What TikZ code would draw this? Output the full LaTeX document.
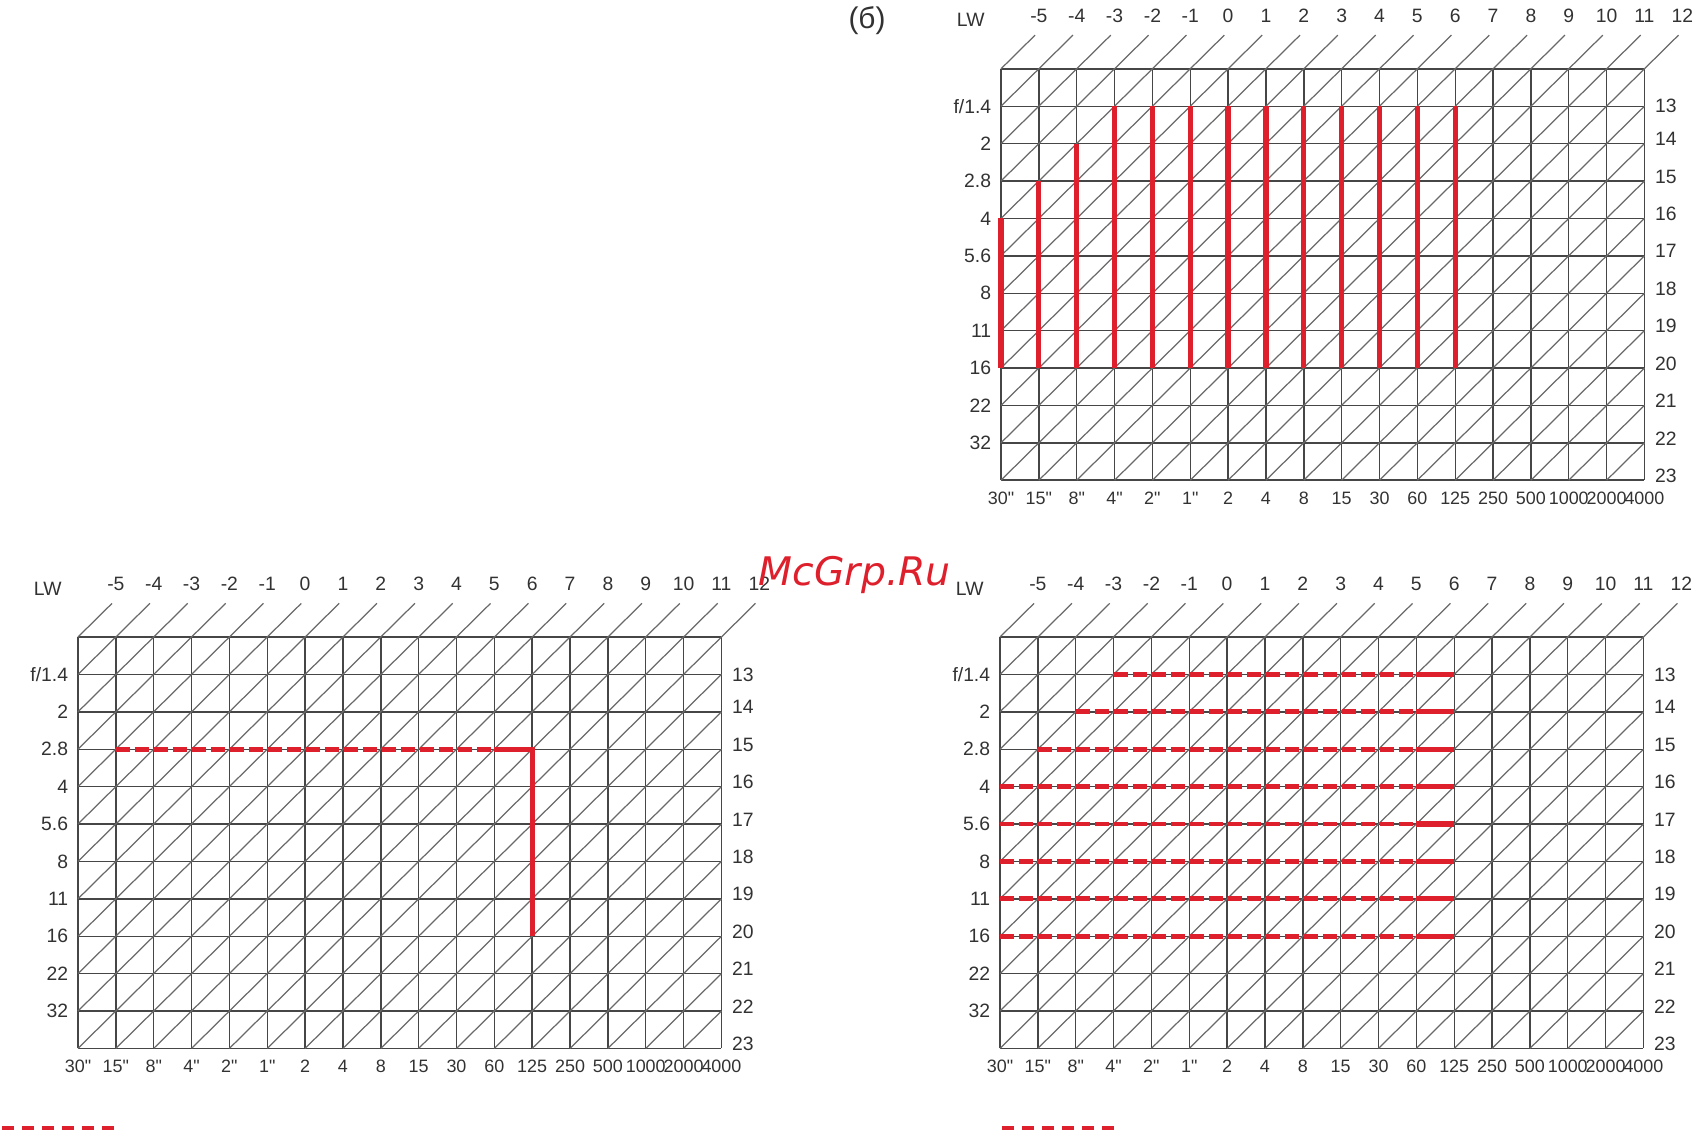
\documentclass[tikz,border=0pt]{standalone}
\usepackage{fontspec}
\setmainfont{Liberation Sans}
\newfontfamily\wmfont{DejaVu Sans}
\definecolor{evgrid}{RGB}{70,70,70}
\definecolor{evdiag}{RGB}{105,105,105}
\definecolor{evred}{RGB}{222,32,44}
\definecolor{evtext}{RGB}{50,50,50}

\tikzset{
  gridline/.style={evgrid, line width=0.4pt},
  diagline/.style={evdiag, line width=0.35pt},
  chartlabel/.style={text=evtext, inner sep=1pt, font=\fontsize{5.5}{6.5}\selectfont},
  speedlabel/.style={chartlabel, font=\fontsize{5.1}{6}\selectfont},
  redsolid/.style={evred, line width=1.5pt},
  reddash/.style={evred, line width=1.4pt, dash pattern=on 0.14cm off 0.05cm},
  legenddash/.style={evred, line width=1.2pt, dash pattern=on 0.12cm off 0.08cm},
}

% one LW chart, 17 x 11 cells, origin at top left corner
\newcommand{\lwchart}[1]{%
  % grid
  \foreach \r in {0,...,11} \draw[gridline] (0,-\r) -- (17,-\r);
  \foreach \c in {0,...,17} \draw[gridline] (\c,0) -- (\c,-11);
  % LW diagonals
  \foreach \c in {1,...,27} {
    \pgfmathsetmacro{\xa}{max(\c-11,0)}
    \pgfmathsetmacro{\xb}{min(\c,17)}
    \draw[diagline] (\xa,\xa-\c) -- (\xb,\xb-\c);
  }
  \foreach \k in {-5,...,12} {
    \draw[diagline] ({\k+5},0) -- ({\k+5.9},0.9);
    \node[chartlabel] (#1-top\k) at ({\k+6},1.42) {\k};
  }
  \node[chartlabel] (#1-lw) at (-0.8,1.3) {LW};
  % apertures
  \foreach \t [count=\r] in {f/1.4,2,2.8,4,5.6,8,11,16,22,32}
    \node[chartlabel, anchor=east] (#1-f\r) at (-0.15,-\r) {\t};
  % right side LW values
  \node[chartlabel, anchor=west] (#1-r1) at (17.17,-1) {13};
  \foreach \t [count=\r from 2] in {14,...,23}
    \node[chartlabel, anchor=west] (#1-r\r) at (17.17,-\r+0.12) {\t};
  % shutter speeds
  \foreach \t [count=\n] in {30\textquotedbl,15\textquotedbl,8\textquotedbl,4\textquotedbl,2\textquotedbl,1\textquotedbl,2,4,8,15,30,60,125,250,500,1000,2000,4000}
    \node[speedlabel] (#1-t\n) at (\n-1,-11.49) {\t};
}

\begin{document}
\begin{tikzpicture}
\useasboundingbox (0,0) rectangle (17,-11.4);

% Panel label
\node[font=\fontsize{8.5}{9}\selectfont, text=evtext] (panelb) at (8.67,-0.21) {(б)};

% Top right chart
\begin{scope}[shift={(10.01cm,-0.688cm)}, x=0.3785cm, y=0.374cm]
\lwchart{tr}
\foreach \c/\s in {0/4,1/3,2/2}
  \draw[redsolid] (\c,-\s) -- (\c,-8);
\foreach \c in {3,...,12}
  \draw[redsolid] (\c,-1) -- (\c,-8);
\end{scope}

% Bottom left chart
\begin{scope}[shift={(0.78cm,-6.37cm)}, x=0.3785cm, y=0.374cm]
\lwchart{bl}
\draw[reddash] (1,-3) -- (11,-3);
\draw[redsolid] (11,-3) -- (12,-3) -- (12,-8);
\end{scope}

% Bottom right chart
\begin{scope}[shift={(10.00cm,-6.37cm)}, x=0.3785cm, y=0.374cm]
\lwchart{br}
\foreach \r/\s in {1/3,2/2,3/1,4/0,5/0,6/0,7/0,8/0} {
  \draw[reddash] (\s,-\r) -- (11,-\r);
  \draw[redsolid] (11,-\r) -- (12,-\r);
}
\end{scope}

% Legend dashes
\draw[legenddash] (0.02,-11.28) -- (1.14,-11.28);
\draw[legenddash] (10.02,-11.28) -- (11.14,-11.28);

% Watermark
\node[anchor=base west, inner sep=0pt, text=evred, font=\wmfont\itshape\fontsize{11.2}{13}\selectfont] (wm) at (7.58,-5.85) {McGrp.Ru};
\end{tikzpicture}
\end{document}
